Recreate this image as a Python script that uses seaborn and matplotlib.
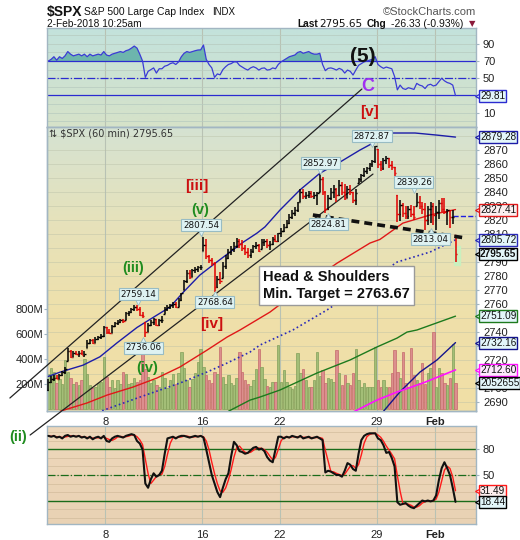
import numpy as np
import pandas as pd
import seaborn as sns
import matplotlib.pyplot as plt
import matplotlib.transforms as mtransforms
from matplotlib.colors import LinearSegmentedColormap
from matplotlib.patches import Rectangle

sns.set_style("white")
plt.rcParams['font.family'] = ['Liberation Sans', 'DejaVu Sans']

## hourly bars (7 per session), 3-Jan-2018 .. first bar of 2-Feb-2018
first_open = 2698
high = [
    2706, 2708, 2709, 2709, 2710, 2712, 2714.4,
    2728, 2727, 2726, 2726, 2726, 2727, 2726,
    2734, 2735, 2735, 2736, 2737, 2738, 2744,
    2743, 2742, 2745, 2747, 2748, 2749, 2749,
    2754, 2755, 2757, 2759.1, 2759, 2758, 2754,
    2747, 2746, 2748, 2750, 2749, 2749, 2751,
    2758, 2759, 2760, 2761, 2761, 2764, 2767.6,
    2777, 2784, 2784, 2785, 2786, 2787, 2787.9,
    2807.5, 2806, 2795, 2793, 2790, 2780, 2783,
    2790, 2795, 2799, 2801, 2804, 2807, 2806,
    2805.8, 2802, 2800, 2799, 2802, 2804, 2803,
    2806, 2806, 2806, 2805, 2808, 2809, 2810.3,
    2814, 2817, 2820, 2824, 2827, 2829, 2833,
    2842.2, 2842, 2840, 2841, 2841, 2840, 2840,
    2853, 2851, 2841, 2838, 2843, 2845, 2843,
    2848.6, 2847, 2846, 2844, 2845, 2840, 2842,
    2850, 2853, 2857, 2858, 2861, 2863, 2872.9,
    2870.6, 2862, 2864, 2866, 2864, 2862, 2858,
    2837.8, 2834, 2832, 2830, 2830, 2831, 2830,
    2839.3, 2837, 2833, 2832, 2830, 2833, 2832,
    2830, 2834, 2836, 2836, 2828, 2827, 2827,
    2809]
low = [
    2697.8, 2703, 2705, 2706, 2706, 2708, 2710,
    2719, 2721, 2722, 2723, 2722, 2723, 2722,
    2728, 2731, 2731, 2732, 2734, 2735, 2736,
    2738, 2738, 2739, 2743, 2745, 2746, 2746,
    2748, 2751, 2753, 2755, 2755, 2751, 2750,
    2736.1, 2740, 2744, 2745, 2744, 2744, 2746,
    2752.8, 2755, 2756, 2757, 2757, 2758, 2762,
    2769.6, 2775, 2778, 2779, 2782, 2783, 2784,
    2798, 2792, 2789, 2787, 2768.6, 2771, 2774,
    2778.4, 2785, 2792, 2795, 2797, 2800, 2800,
    2798, 2795, 2793, 2792.6, 2796, 2799, 2797,
    2799, 2801, 2800, 2798.1, 2802, 2804, 2804,
    2808.1, 2811, 2814, 2817, 2821, 2823, 2826,
    2833, 2835, 2835, 2836, 2836, 2835, 2830.6,
    2840, 2838, 2824.8, 2827, 2834, 2836, 2833,
    2837, 2838, 2834, 2836, 2838, 2832, 2830.9,
    2846.2, 2847, 2851, 2853, 2855, 2858, 2861,
    2857, 2855, 2856, 2860, 2857, 2856, 2851.5,
    2818.3, 2819, 2822, 2821, 2821, 2822, 2820,
    2830, 2828, 2824, 2813, 2816, 2818, 2816,
    2812.7, 2821, 2826, 2824, 2816, 2814, 2817,
    2790]
close = [
    2704, 2706, 2707, 2706, 2709, 2711, 2713,
    2726, 2722, 2725, 2724, 2725, 2723, 2724,
    2732, 2734, 2732, 2735, 2736, 2737, 2743,
    2740, 2739, 2744, 2746, 2747, 2748, 2747.7,
    2753, 2754, 2756, 2758, 2756, 2752, 2751.3,
    2740, 2745, 2747, 2749, 2745, 2748, 2748.2,
    2756, 2758, 2759, 2760, 2758, 2763, 2767.5,
    2776, 2782, 2779, 2784, 2785, 2786, 2786.2,
    2802, 2794, 2791, 2789, 2772, 2778, 2776.4,
    2787, 2793, 2797, 2799, 2801, 2805, 2802.6,
    2800, 2797, 2795, 2798, 2801, 2802, 2798,
    2804, 2805, 2802, 2803, 2806, 2805, 2810.3,
    2812, 2815, 2818, 2822, 2825, 2827, 2833,
    2840, 2837, 2838, 2839, 2837, 2838, 2839.1,
    2849, 2840, 2828, 2836, 2840, 2842, 2837.5,
    2845, 2840, 2836, 2842, 2840, 2834, 2839.3,
    2849, 2852, 2855, 2857, 2860, 2862, 2872.9,
    2860, 2857, 2863, 2864, 2859, 2858, 2853.5,
    2824, 2831, 2825, 2823, 2828, 2824, 2822.4,
    2833, 2830, 2828, 2820, 2828, 2830, 2823.8,
    2826, 2832, 2828, 2826, 2827, 2822, 2822,
    2795.65]
volume = [  # millions
    280, 330, 300, 210, 240, 200, 390,
    300, 250, 200, 220, 190, 230, 400,
    280, 190, 170, 180, 210, 220, 420,
    260, 180, 230, 170, 230, 200, 300,
    280, 200, 210, 250, 220, 230, 460,
    320, 260, 210, 230, 190, 180, 300,
    250, 170, 230, 280, 200, 290, 460,
    330, 230, 180, 240, 290, 380, 480,
    340, 270, 230, 210, 300, 280, 500,
    260, 200, 270, 210, 190, 250, 460,
    300, 230, 200, 184, 232, 317, 480,
    339, 237, 184, 173, 219, 219, 512,
    219, 312, 219, 179, 157, 184, 445,
    285, 320, 232, 179, 179, 232, 453,
    267, 312, 211, 245, 237, 219, 472,
    285, 192, 272, 205, 192, 285, 477,
    232, 179, 205, 179, 179, 179, 499,
    232, 179, 232, 173, 179, 285, 472,
    299, 245, 459, 205, 179, 485, 272,
    230, 210, 365, 200, 285, 325, 619,
    180, 325, 285, 211, 192, 245, 520,
    205]
rsi = [
    70, 72, 75, 71, 75, 73, 76,
    81, 78, 76, 77, 78, 76, 78,
    75, 78, 76, 77, 78, 77, 81,
    77, 76, 78, 79, 80, 81, 80,
    82, 83, 85, 87.4, 85, 78, 70,
    51, 58, 60, 62, 56, 61, 61,
    64, 65, 67, 68, 66, 69, 75,
    79, 81, 80, 81, 82, 82.8, 83,
    88.6, 72, 66, 62, 51, 55, 54,
    60, 63.4, 66, 67, 69, 69, 65,
    63, 61, 59.5, 62, 63.4, 62, 59.5,
    61.5, 62, 59.5, 60, 62, 61, 66,
    69, 71, 73, 75, 76, 77, 80,
    81, 79, 80, 81, 79, 78, 78,
    79, 66, 58.8, 61.5, 62, 61, 59.5,
    61.5, 60, 56, 59.5, 58, 53.7, 59.5,
    65, 67, 69, 70, 71, 72, 75,
    66, 63.4, 61.5, 63, 62, 61, 52,
    36.5, 42, 38, 37, 39, 38, 37,
    44, 42, 41, 38, 42, 43, 41,
    42, 46, 50, 47, 45, 44, 42,
    29.81]
stoch_k = [
    96, 95, 96, 94, 95, 93, 96,
    97, 95, 96, 95, 96, 94, 95,
    93, 95, 92, 94, 95, 93, 96,
    90, 89, 93, 95, 96, 95, 94,
    96, 97, 98, 97, 90, 87, 80,
    40, 35, 45, 52, 48, 50, 55,
    75, 93, 94, 95, 93, 95, 96,
    96, 95, 94, 95, 96, 95, 96,
    94, 80, 65, 50, 40, 30, 24,
    35, 45, 52, 72, 89, 85, 78,
    77, 75, 76, 79, 82, 83, 80,
    81, 78, 71, 67, 65, 80, 95,
    95, 93, 95, 94, 96, 95, 94,
    96, 93, 94, 95, 93, 94, 95,
    93, 91, 53, 55, 54, 52, 50,
    50, 48, 55, 64, 62, 57, 55,
    75, 91, 96, 98, 99, 99, 99,
    93, 91, 85, 76, 77, 70, 60,
    18, 15, 16, 17, 14, 12, 11,
    14, 17, 20, 19, 20, 19, 20,
    26, 44, 58, 65, 58, 50, 35,
    18.44]
stoch_d = [
    96, 95.5, 95.7, 95, 95, 94, 94.7,
    95.3, 96, 96, 95.3, 95.7, 95, 95,
    94, 94, 93.3, 93.7, 93.7, 94, 94.7,
    93, 91.7, 90.7, 92.3, 94.7, 95.3, 95,
    95, 95.7, 97, 97, 95, 91.3, 85.7,
    69, 51.7, 40, 44, 48.3, 50, 51,
    60, 74.3, 87.3, 94, 94, 94.3, 94.7,
    95.7, 95.7, 95, 94.7, 95, 95.3, 95.7,
    95, 90, 79.7, 65, 51.7, 40, 31.3,
    29.7, 34.7, 44, 56.3, 71, 82, 84,
    80, 76.7, 76, 76.7, 79, 81.3, 81.7,
    81.3, 79.7, 76.7, 72, 67.7, 70.7, 80,
    90, 94.3, 94.3, 94, 95, 95, 95,
    95, 94.3, 94.3, 94, 94, 94, 94,
    94, 93, 79, 66.3, 54, 53.7, 52,
    50.7, 49.3, 51, 55.7, 60.3, 61, 58,
    62.3, 73.7, 87.3, 95, 97.7, 98.7, 99,
    97, 94.3, 89.7, 84, 79.3, 74.3, 69,
    49.3, 31, 16.3, 16, 15.7, 14.3, 12.3,
    12.3, 14, 17, 18.7, 19.7, 19.3, 19.7,
    21.7, 30, 42.7, 55.7, 60.3, 57.7, 47.7,
    31.49]

## overlay lines: (bar, price)
ma_blue_x = [0, 4.2, 12.5, 18.6, 24.8, 32, 38.5, 43.9, 48.6, 54.7, 60.9, 65.6, 70.3, 75.3, 78.2,
             83.6, 90.8, 98.1, 105.3, 112.5, 117.2, 124.4, 132.4, 140.3, 147]
ma_blue_y = [2708, 2711, 2716, 2722, 2732, 2743, 2751, 2757.6, 2768, 2780.5, 2790, 2797, 2804, 2810.5, 2815,
             2827, 2841.4, 2853.5, 2861.4, 2870, 2875, 2882.2, 2882.2, 2880.7, 2879.28]
ma_red_x = [4.2, 13.9, 21.2, 30.5, 39.2, 47.5, 57.3, 64.5, 69.2, 80, 92, 104.2, 116.1, 119.7, 128, 137.8, 147]
ma_red_y = [2683, 2688.9, 2694.6, 2700.3, 2706.8, 2714.7, 2726.8, 2736.1, 2741.2, 2754, 2772, 2789, 2803.4,
            2806, 2817.7, 2823.5, 2827.41]
ma_dot_x = [19.4, 33.1, 47.5, 57.3, 64.5, 72.8, 76.4, 88.3, 100.6, 125.9, 137.8, 147]
ma_dot_y = [2683.4, 2693.2, 2703.2, 2711.1, 2717.5, 2725.4, 2730.4, 2741.2, 2755.5, 2789.8, 2797, 2805.72]
ma_green_x = [65, 72.8, 76.4, 83.6, 97, 108.9, 118.6, 125.9, 129.5, 133.1, 147]
ma_green_y = [2683, 2691, 2693.2, 2698.2, 2710.4, 2719.7, 2729, 2735.4, 2739.7, 2741.2, 2751.09]
ma_navy_x = [121, 126.9, 134.2, 140.3, 147]
ma_navy_y = [2683, 2696.8, 2711.1, 2719.7, 2732.16]
ma_mag_x = [110, 118.6, 125.9, 135.2, 147]
ma_mag_y = [2682.4, 2691, 2696.8, 2703.2, 2712.6]

## trendlines (bar, price)
chan1_x, chan1_y = [-13.9, 113.2], [2692.5, 2913.7]
chan2_x, chan2_y = [-6.6, 117.2], [2666, 2852.8]
neck_x, neck_y = [95.5, 150.8], [2823.5, 2807]

day_labels = ['8', '16', '22', '29', 'Feb']
day_first_bar = [21, 56, 84, 119, 140]

price_ticks = list(range(2690, 2890, 10))
hidden_price_ticks = [2880, 2800, 2750, 2730, 2710]   # sit under the value tags

# ---------------------------------------------------------------
W, H = 520, 540
fig = plt.figure(figsize=(W / 100, H / 100), dpi=100)


def px_rect(x0, y0, x1, y1):
    return [x0 / W, 1 - y1 / H, (x1 - x0) / W, (y1 - y0) / H]


def gradient_bg(ax, colors):
    cmap = LinearSegmentedColormap.from_list('bg', colors)
    grad = np.linspace(0, 1, 256).reshape(-1, 1)
    ax.imshow(grad, extent=[0, 1, 0, 1], transform=ax.transAxes, cmap=cmap,
              aspect='auto', zorder=-5, origin='upper')


ax_rsi = fig.add_axes(px_rect(47, 28, 476, 127))
ax_vol = fig.add_axes(px_rect(47, 127, 476, 411))
ax_price = ax_vol.twinx()
ax_sto = fig.add_axes(px_rect(47, 426, 476, 524))
ax_vol.set_zorder(4)
ax_price.set_zorder(5)
ax_price.patch.set_visible(False)

gradient_bg(ax_rsi, ['#c3e2dc', '#d6e2c9'])
gradient_bg(ax_vol, ['#d5e3d2', '#e6e2bb', '#efe0aa', '#f1dfa6'])
gradient_bg(ax_sto, ['#eed8bb', '#e9d2b4'])

bars = np.arange(len(close))
close_a = np.array(close)
opens = np.clip(np.r_[first_open, close_a[:-1]], low, high)
up = np.r_[True, np.diff(close_a) >= 0]
xmin, xmax = -0.5, 154.4
tick_pos = [b - 0.5 for b in day_first_bar]

grid_c = '#b9bfa6'
for ax in (ax_rsi, ax_vol, ax_sto):
    for t in tick_pos:
        ax.axvline(t, color='#b8c2b4', lw=0.8, zorder=0)

# ---- RSI panel
for v in range(0, 101, 10):
    ax_rsi.axhline(v, color='#b7cbbf', lw=0.5, zorder=0)
ax_rsi.fill_between(bars, rsi, 70, where=np.array(rsi) > 70, interpolate=True,
                    color='#6db5ad', zorder=1, lw=0)
ax_rsi.axhline(70, color='#2b2bd0', lw=0.9, zorder=2)
ax_rsi.axhline(50, color='#2b2bd0', lw=0.9, ls='-.', zorder=2)
ax_rsi.axhline(30, color='#2b2bd0', lw=0.9, zorder=2)
sns.lineplot(x=bars, y=rsi, ax=ax_rsi, color='#3b3bd6', lw=0.9, zorder=3)

# ---- volume + price panel
trans_grid = mtransforms.blended_transform_factory(ax_vol.transAxes, ax_price.transData)
for p in price_ticks:
    ax_vol.plot([0, 1], [p, p], transform=trans_grid, color=grid_c, lw=0.5, alpha=0.6, zorder=0)
vol_fc = np.where(up, '#a3be77', '#dc8e8e')
vol_ec = np.where(up, '#82a05a', '#c46b6b')
ax_vol.bar(bars, volume, width=0.88, color=vol_fc, edgecolor=vol_ec, linewidth=0.5, zorder=2)

ax_price.add_patch(Rectangle((146.3, 2788), 2.3, 13, color='#c9f0bf', zorder=1))

sns.lineplot(x=ma_blue_x, y=ma_blue_y, ax=ax_price, color='#1c1ca8', lw=1.0, zorder=3)
sns.lineplot(x=ma_red_x, y=ma_red_y, ax=ax_price, color='#e01818', lw=1.0, zorder=3)
sns.lineplot(x=ma_dot_x, y=ma_dot_y, ax=ax_price, color='#2a2ab8', lw=1.2, ls=':', zorder=3)
sns.lineplot(x=ma_green_x, y=ma_green_y, ax=ax_price, color='#1d7a1d', lw=1.0, zorder=3)
sns.lineplot(x=ma_navy_x, y=ma_navy_y, ax=ax_price, color='#14148c', lw=1.0, zorder=3)
sns.lineplot(x=ma_mag_x, y=ma_mag_y, ax=ax_price, color='#ff10ff', lw=1.2, zorder=3)

ax_price.plot(chan1_x, chan1_y, color='#222222', lw=0.9, clip_on=False, zorder=4)
ax_price.plot(chan2_x, chan2_y, color='#222222', lw=0.9, clip_on=False, zorder=4)
ax_price.plot(neck_x, neck_y, color='#111111', lw=2.6, ls=(0, (2.2, 1.4)), zorder=6)
ax_price.plot([146, xmax], [2822.5, 2822.5], color='#2020e0', lw=1.0, ls='--', zorder=4)

bar_col = np.where(up, '#000000', '#e00000')
ax_price.vlines(bars, low, high, colors=bar_col, lw=1.1, zorder=5)
ax_price.hlines(opens, bars - 0.55, bars, colors=bar_col, lw=1.0, zorder=5)
ax_price.hlines(close_a, bars, bars + 0.55, colors=bar_col, lw=1.0, zorder=5)

# ---- stochastics panel
for v in range(0, 101, 10):
    ax_sto.axhline(v, color='#d2bc9c', lw=0.5, zorder=0)
ax_sto.axhline(80, color='#1a6b1a', lw=1.0, zorder=1)
ax_sto.axhline(50, color='#1a6b1a', lw=0.9, ls='-.', zorder=1)
ax_sto.axhline(20, color='#1a6b1a', lw=1.0, zorder=1)
sns.lineplot(x=bars, y=stoch_d, ax=ax_sto, color='#ff1a1a', lw=1.0, zorder=2)
sns.lineplot(x=bars, y=stoch_k, ax=ax_sto, color='#111111', lw=1.5, zorder=3)

# ---- limits, ticks, spines
for ax in (ax_rsi, ax_vol, ax_price, ax_sto):
    ax.set_xlim(xmin, xmax)
    ax.set_xlabel('')
    ax.set_ylabel('')
ax_rsi.set_ylim(-6.7, 108.4)
ax_price.set_ylim(2683.2, 2886.5)
ax_vol.set_ylim(-16, 2256)
ax_sto.set_ylim(-7.6, 107.6)

spine_c = '#a2b6c2'
for ax in (ax_rsi, ax_vol, ax_price, ax_sto):
    for s in ax.spines.values():
        s.set_color(spine_c)
        s.set_linewidth(1.0)

tick_kw = dict(labelsize=8, length=2, pad=3, color=spine_c, labelcolor='#222222')
ax_rsi.set_xticks([])
ax_rsi.yaxis.tick_right()
ax_rsi.set_yticks([10, 30, 50, 70, 90])
ax_rsi.set_yticklabels(['10', '', '50', '70', '90'])
ax_rsi.tick_params(axis='y', **tick_kw)

ax_price.set_yticks(price_ticks)
ax_price.set_yticklabels(['' if p in hidden_price_ticks else str(p) for p in price_ticks])
ax_price.tick_params(axis='y', **tick_kw)
ax_price.set_xticks([])
ax_vol.set_yticks([200, 400, 600, 800])
ax_vol.set_yticklabels(['200M', '400M', '600M', '800M'])
ax_vol.tick_params(axis='y', labelsize=8, length=2, pad=1, color=spine_c, labelcolor='#222222')

for ax in (ax_vol, ax_sto):
    ax.set_xticks(tick_pos)
    ax.set_xticklabels(day_labels)
    ax.tick_params(axis='x', labelsize=8, length=0, pad=4, labelcolor='#222222')
    ax.get_xticklabels()[-1].set_fontweight('bold')

ax_sto.yaxis.tick_right()
ax_sto.set_yticks([20, 50, 80])
ax_sto.set_yticklabels(['', '50', '80'])
ax_sto.tick_params(axis='y', **tick_kw)


# ---- right hand value tags
def tag(ax, y, text, ec, ytrans=None, bold=False, fc='#e3f6fa'):
    tr = mtransforms.blended_transform_factory(ax.transAxes, ytrans or ax.transData)
    ax.text(1.0095, y, text, transform=tr, ha='left', va='center', fontsize=7.2,
            fontweight='bold' if bold else 'normal', color='#111111', zorder=20,
            bbox=dict(boxstyle='square,pad=0.1', fc=fc, ec=ec, lw=1.0))
    ax.plot([1.0045], [y], transform=tr, marker='<', ms=4, mfc=fc, mec=ec, mew=0.9,
            clip_on=False, zorder=19)


tag(ax_rsi, 29.81, '29.81', '#2b2bd0')
tag(ax_price, 2879.28, '2879.28', '#1c1ca8')
tag(ax_price, 2827.41, '2827.41', '#e01818', fc='#fbeff0')
tag(ax_price, 2805.72, '2805.72', '#2a2ab8')
tag(ax_price, 2795.65, '2795.65', '#000000', bold=True)
tag(ax_price, 2751.09, '2751.09', '#1d7a1d')
tag(ax_price, 2732.16, '2732.16', '#14148c')
tag(ax_price, 2712.60, '2712.60', '#ff10ff', fc='#fde8fd')
tag(ax_price, 205, '2052655', '#000000', ytrans=ax_vol.transData)
tag(ax_sto, 31.49, '31.49', '#ff1a1a', fc='#fdeeee')
tag(ax_sto, 18.44, '18.44', '#000000')


# ---- price callouts
def callout(bx, py, text, down):
    ax_price.text(bx, py, text, ha='center', va='center', fontsize=6.3, family='DejaVu Sans',
                  color='#111111', zorder=15,
                  bbox=dict(boxstyle='square,pad=0.18', fc='#def2f2', ec='#98bcc4', lw=0.8))
    off = -5.6 if down else 5.6
    ax_price.plot([bx], [py + off], marker='v' if down else '^', ms=5, mfc='#def2f2',
                  mec='#98bcc4', mew=0.6, zorder=14, clip_on=False)


callout(55.1, 2816.3, '2807.54', True)
callout(32.4, 2766.9, '2759.14', True)
callout(60.1, 2761.2, '2768.64', False)
callout(34.2, 2728.3, '2736.06', False)
callout(98.1, 2860.7, '2852.97', True)
callout(116.8, 2880.0, '2872.87', True)
callout(132.0, 2847.1, '2839.26', True)
callout(101.0, 2817.0, '2824.81', False)
callout(138.1, 2806.3, '2813.04', False)

# ---- wave labels
red_c, green_c = '#cc1010', '#1f8c1f'
ax_price.text(53.7, 2844.2, '[iii]', color=red_c, fontsize=11, fontweight='bold', ha='center', va='center', zorder=15)
ax_price.text(59.1, 2745.4, '[iv]', color=red_c, fontsize=11, fontweight='bold', ha='center', va='center', zorder=15)
ax_price.text(54.7, 2827.0, '(v)', color=green_c, fontsize=10.5, fontweight='bold', ha='center', va='center', zorder=15)
ax_price.text(30.5, 2785.5, '(iii)', color=green_c, fontsize=10.5, fontweight='bold', ha='center', va='center', zorder=15)
ax_price.text(35.6, 2714.0, '(iv)', color=green_c, fontsize=10.5, fontweight='bold', ha='center', va='center', zorder=15)
ax_price.text(-11.0, 2664.6, '(ii)', color=green_c, fontsize=10.5, fontweight='bold', ha='center', va='center',
              zorder=15, clip_on=False)
ax_rsi.text(116.1, 10.7, '[v]', color=red_c, fontsize=11, fontweight='bold', ha='center', va='center', zorder=15)
ax_rsi.text(113.6, 75.8, '(5)', color='#111111', fontsize=15, fontweight='bold', ha='center', va='center', zorder=15)
ax_rsi.text(115.4, 40.9, 'C', color='#a030f0', fontsize=13, fontweight='bold', ha='center', va='center', zorder=15)

ax_price.text(77.5, 2773.0, 'Head & Shoulders\nMin. Target = 2763.67', ha='left', va='center',
              fontsize=10.5, fontweight='bold', color='#111111', linespacing=1.2, zorder=16,
              bbox=dict(boxstyle='square,pad=0.3', fc='white', ec='#9a9a9a', lw=1.0))

ax_price.text(0.005, 1 - 7 / 284, '\u21c5 $SPX (60 min) 2795.65', transform=ax_price.transAxes,
              ha='left', va='center', fontsize=7, family='DejaVu Sans', color='#333333', zorder=15)

# ---- header
def ftext(x, y, s, **kw):
    fig.text(x / W, 1 - y / H, s, va='baseline', **kw)


ftext(47, 16, '$SPX', fontsize=10, fontweight='bold', color='#111111')
ftext(84, 15, 'S&P 500 Large Cap Index', fontsize=7.5, color='#111111')
ftext(212, 15, 'INDX', fontsize=7, color='#111111')
ftext(476, 15, '\u00a9StockCharts.com', fontsize=8, color='#555555', ha='right')
ftext(47, 27, '2-Feb-2018 10:25am', fontsize=7.3, color='#111111')
ftext(297, 27, 'Last', fontsize=7.3, fontweight='bold', color='#111111')
ftext(319, 27, '2795.65', fontsize=7.5, color='#111111', family='DejaVu Sans')
ftext(367, 27, 'Chg', fontsize=7.3, fontweight='bold', color='#111111')
ftext(391, 27, '-26.33 (-0.93%)', fontsize=7.5, color='#111111')
ftext(469, 26, '\u25bc', fontsize=6, color='#8b1a3a', family='DejaVu Sans')

fig.savefig('out.png', dpi=100)
